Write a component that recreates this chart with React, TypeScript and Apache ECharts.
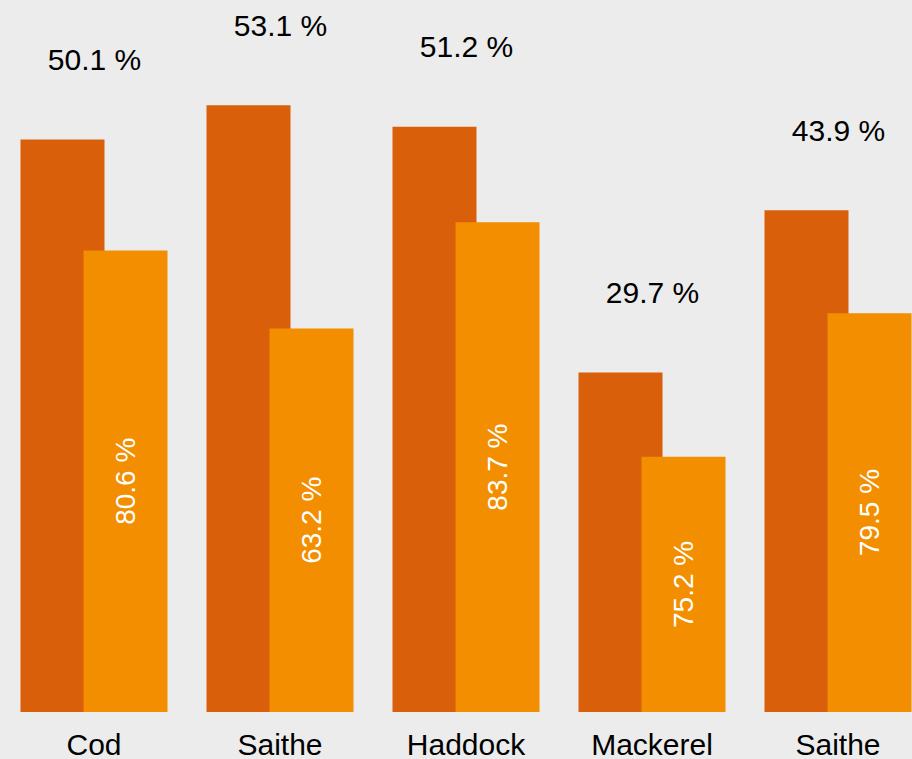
import React, { useEffect, useRef } from "react";
import * as echarts from "echarts";

const categories = ["Cod", "Saithe", "Haddock", "Mackerel", "Saithe"];
const totalPct = [50.1, 53.1, 51.2, 29.7, 43.9];
const sharePct = [80.6, 63.2, 83.7, 75.2, 79.5];

const DARK = "#d95f0a";
const LIGHT = "#f28e00";
const FONT = "'Liberation Sans', Arial, Helvetica, sans-serif";

export default function App() {
  const ref = useRef<HTMLDivElement>(null);
  useEffect(() => {
    if (!ref.current) return;
    const chart = echarts.init(ref.current, undefined, { renderer: "svg" });
    const lightValues = totalPct.map((v, i) => ({
      value: (v * sharePct[i]) / 100,
      share: sharePct[i],
    }));
    chart.setOption({
      animation: false,
      backgroundColor: "#ececec",
      textStyle: { fontFamily: FONT },
      grid: { left: 1, right: 0, top: 0, height: 713 },
      xAxis: {
        type: "category",
        data: categories,
        axisLine: { show: false },
        axisTick: { show: false },
        axisLabel: { fontSize: 30, color: "#000", margin: 17, fontFamily: FONT },
      },
      yAxis: {
        type: "value",
        min: 0,
        max: 62.3,
        show: false,
        splitLine: { show: false },
      },
      series: [
        {
          type: "bar",
          data: totalPct,
          barWidth: 84,
          barGap: "-25%",
          itemStyle: { color: DARK },
          label: {
            show: true,
            position: "top",
            distance: 65,
            offset: [32, 0],
            fontSize: 30,
            color: "#000",
            fontFamily: FONT,
            formatter: (p: any) => `${p.value} %`,
          },
        },
        {
          type: "bar",
          data: lightValues,
          barWidth: 84,
          itemStyle: { color: LIGHT },
          label: {
            show: true,
            position: "inside",
            rotate: 90,
            fontSize: 28,
            color: "#fff",
            fontFamily: FONT,
            formatter: (p: any) => `${p.data.share} %`,
          },
        },
      ],
    });
    return () => chart.dispose();
  }, []);
  return (
    <div
      style={{
        position: "fixed",
        left: 0,
        top: 0,
        width: 912,
        height: 759,
        overflow: "hidden",
        background: "#ececec",
      }}
    >
      <div ref={ref} style={{ width: 931, height: 759 }} />
    </div>
  );
}
